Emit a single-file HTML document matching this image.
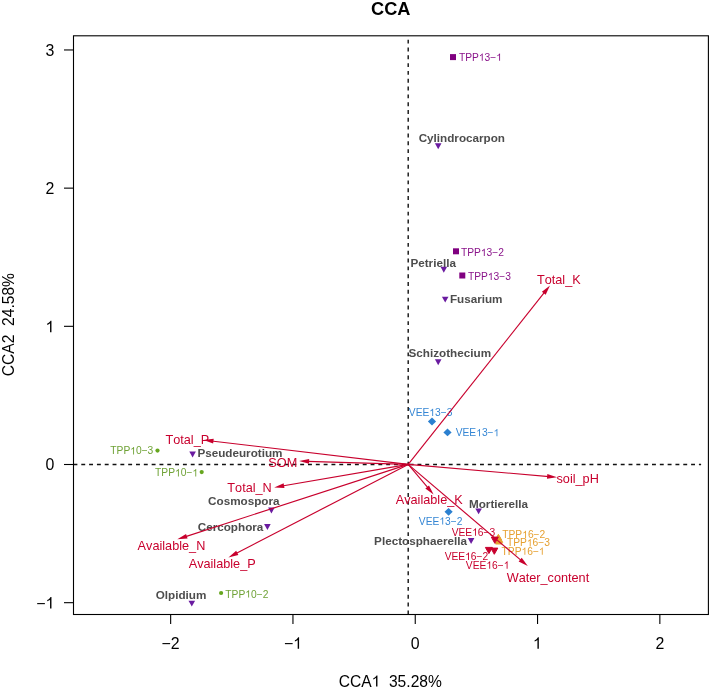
<!DOCTYPE html>
<html><head><meta charset="utf-8"><style>
html,body{margin:0;padding:0;background:#fff;width:709px;height:691px;overflow:hidden;}
svg{display:block;will-change:transform;font-family:"Liberation Sans", sans-serif;font-kerning:none;}
</style></head><body>
<svg width="709" height="691" viewBox="0 0 709 691">
<rect width="709" height="691" fill="#fff"/>
<line x1="73.47" y1="464.56" x2="701.1" y2="464.56" stroke="#111" stroke-width="1.4" stroke-dasharray="3.909 3.909"/>
<line x1="408.2" y1="614.3" x2="408.2" y2="36" stroke="#111" stroke-width="1.4" stroke-dasharray="3.909 3.909"/>
<polygon points="434.90,143.25 441.50,143.25 438.20,149.15" fill="#6a1ba0"/>
<text x="418.64" y="141.60" font-size="11.7" font-weight="bold" fill="#4d4d4d">Cylindrocarpon</text>
<polygon points="440.50,266.75 447.10,266.75 443.80,272.65" fill="#6a1ba0"/>
<text x="410.41" y="266.80" font-size="11.7" font-weight="bold" fill="#4d4d4d">Petriella</text>
<polygon points="441.90,296.65 448.50,296.65 445.20,302.55" fill="#6a1ba0"/>
<text x="449.89" y="302.60" font-size="11.7" font-weight="bold" fill="#4d4d4d">Fusarium</text>
<polygon points="434.90,359.25 441.50,359.25 438.20,365.15" fill="#6a1ba0"/>
<text x="408.56" y="357.30" font-size="11.7" font-weight="bold" fill="#4d4d4d">Schizothecium</text>
<polygon points="189.30,451.55 195.90,451.55 192.60,457.45" fill="#6a1ba0"/>
<text x="197.39" y="457.30" font-size="11.7" font-weight="bold" fill="#4d4d4d">Pseudeurotium</text>
<polygon points="268.10,507.55 274.70,507.55 271.40,513.45" fill="#6a1ba0"/>
<text x="208.07" y="505.00" font-size="11.7" font-weight="bold" fill="#4d4d4d">Cosmospora</text>
<polygon points="264.10,524.05 270.70,524.05 267.40,529.95" fill="#6a1ba0"/>
<text x="197.74" y="531.10" font-size="11.7" font-weight="bold" fill="#4d4d4d">Cercophora</text>
<polygon points="188.50,600.65 195.10,600.65 191.80,606.55" fill="#6a1ba0"/>
<text x="155.72" y="599.30" font-size="11.7" font-weight="bold" fill="#4d4d4d">Olpidium</text>
<polygon points="475.30,508.45 481.90,508.45 478.60,514.35" fill="#6a1ba0"/>
<text x="468.99" y="507.80" font-size="11.7" font-weight="bold" fill="#4d4d4d">Mortierella</text>
<polygon points="467.80,538.05 474.40,538.05 471.10,543.95" fill="#6a1ba0"/>
<text x="374.12" y="545.10" font-size="11.7" font-weight="bold" fill="#4d4d4d">Plectosphaerella</text>
<rect x="450.00" y="54.10" width="6" height="6" fill="#800080"/>
<rect x="453.00" y="248.30" width="6" height="6" fill="#800080"/>
<rect x="459.30" y="272.50" width="6" height="6" fill="#800080"/>
<polygon points="427.90,421.50 432.00,417.60 436.10,421.50 432.00,425.40" fill="#2b80d0"/>
<polygon points="443.40,432.40 447.50,428.50 451.60,432.40 447.50,436.30" fill="#2b80d0"/>
<polygon points="444.50,511.80 448.60,507.90 452.70,511.80 448.60,515.70" fill="#2b80d0"/>
<circle cx="157.50" cy="450.60" r="2.1" fill="#66a61e"/>
<circle cx="201.70" cy="472.10" r="2.1" fill="#66a61e"/>
<circle cx="221.10" cy="593.00" r="2.1" fill="#66a61e"/>
<polygon points="495.10,540.10 501.70,540.10 498.40,534.30" fill="#e6a030" stroke="#e6a030" stroke-width="1.0" stroke-linejoin="round"/>
<polygon points="496.10,542.40 502.70,542.40 499.40,536.60" fill="#e6a030" stroke="#e6a030" stroke-width="1.0" stroke-linejoin="round"/>
<polygon points="495.50,544.00 502.10,544.00 498.80,538.20" fill="#e6a030" stroke="#e6a030" stroke-width="1.0" stroke-linejoin="round"/>
<polygon points="491.30,537.10 498.30,537.10 494.80,543.30" fill="#c8002d" stroke="#c8002d" stroke-width="1.0" stroke-linejoin="round"/>
<polygon points="485.40,547.40 492.40,547.40 488.90,553.60" fill="#c8002d" stroke="#c8002d" stroke-width="1.0" stroke-linejoin="round"/>
<polygon points="490.80,548.10 497.80,548.10 494.30,554.30" fill="#c8002d" stroke="#c8002d" stroke-width="1.0" stroke-linejoin="round"/>
<path d="M 482.68,60.80 L 481.78,60.80 L 481.78,55.06 Q 481.45,55.37 480.92,55.68 Q 480.39,55.99 479.97,56.15 L 479.97,55.27 Q 480.73,54.92 481.29,54.41 Q 481.86,53.91 482.09,53.43 L 482.68,53.43 Z" fill="#8a148a"/>
<path d="M 500.06,60.80 L 499.16,60.80 L 499.16,55.06 Q 498.84,55.37 498.31,55.68 Q 497.78,55.99 497.36,56.15 L 497.36,55.27 Q 498.11,54.92 498.68,54.41 Q 499.24,53.91 499.48,53.43 L 500.06,53.43 Z" fill="#8a148a"/>
<text x="458.92" y="60.80" font-size="10.25" fill="#8a148a">TPP 3− </text>
<path d="M 484.73,256.00 L 483.83,256.00 L 483.83,250.26 Q 483.51,250.57 482.98,250.88 Q 482.45,251.19 482.03,251.35 L 482.03,250.47 Q 482.78,250.12 483.35,249.61 Q 483.91,249.11 484.15,248.63 L 484.73,248.63 Z" fill="#8a148a"/>
<text x="460.98" y="256.00" font-size="10.25" fill="#8a148a">TPP 3−2</text>
<path d="M 491.65,280.00 L 490.75,280.00 L 490.75,274.26 Q 490.43,274.57 489.90,274.88 Q 489.37,275.19 488.94,275.35 L 488.94,274.47 Q 489.70,274.12 490.27,273.61 Q 490.83,273.11 491.07,272.63 L 491.65,272.63 Z" fill="#8a148a"/>
<text x="467.90" y="280.00" font-size="10.25" fill="#8a148a">TPP 3−3</text>
<path d="M 433.13,416.00 L 432.23,416.00 L 432.23,410.26 Q 431.91,410.57 431.38,410.88 Q 430.85,411.19 430.43,411.35 L 430.43,410.47 Q 431.18,410.12 431.75,409.61 Q 432.31,409.11 432.55,408.63 L 433.13,408.63 Z" fill="#3586d4"/>
<text x="408.80" y="416.00" font-size="10.25" fill="#3586d4">VEE 3−3</text>
<path d="M 480.01,436.30 L 479.11,436.30 L 479.11,430.56 Q 478.78,430.87 478.25,431.18 Q 477.72,431.49 477.30,431.65 L 477.30,430.77 Q 478.06,430.42 478.62,429.91 Q 479.19,429.41 479.42,428.93 L 480.01,428.93 Z" fill="#3586d4"/>
<path d="M 497.39,436.30 L 496.49,436.30 L 496.49,430.56 Q 496.17,430.87 495.64,431.18 Q 495.11,431.49 494.69,431.65 L 494.69,430.77 Q 495.44,430.42 496.01,429.91 Q 496.57,429.41 496.81,428.93 L 497.39,428.93 Z" fill="#3586d4"/>
<text x="455.68" y="436.30" font-size="10.25" fill="#3586d4">VEE 3− </text>
<path d="M 443.17,524.60 L 442.26,524.60 L 442.26,518.86 Q 441.94,519.17 441.41,519.48 Q 440.88,519.79 440.46,519.95 L 440.46,519.07 Q 441.21,518.72 441.78,518.21 Q 442.34,517.71 442.58,517.23 L 443.17,517.23 Z" fill="#3586d4"/>
<text x="418.84" y="524.60" font-size="10.25" fill="#3586d4">VEE 3−2</text>
<path d="M 134.05,454.40 L 133.15,454.40 L 133.15,448.66 Q 132.83,448.97 132.30,449.28 Q 131.77,449.59 131.34,449.75 L 131.34,448.87 Q 132.10,448.52 132.67,448.01 Q 133.23,447.51 133.47,447.03 L 134.05,447.03 Z" fill="#6fa236"/>
<text x="110.30" y="454.40" font-size="10.25" fill="#6fa236">TPP 0−3</text>
<path d="M 178.83,476.40 L 177.93,476.40 L 177.93,470.66 Q 177.60,470.97 177.07,471.28 Q 176.54,471.59 176.12,471.75 L 176.12,470.87 Q 176.88,470.52 177.44,470.01 Q 178.01,469.51 178.24,469.03 L 178.83,469.03 Z" fill="#6fa236"/>
<path d="M 196.21,476.40 L 195.31,476.40 L 195.31,470.66 Q 194.99,470.97 194.46,471.28 Q 193.93,471.59 193.51,471.75 L 193.51,470.87 Q 194.26,470.52 194.83,470.01 Q 195.39,469.51 195.63,469.03 L 196.21,469.03 Z" fill="#6fa236"/>
<text x="155.07" y="476.40" font-size="10.25" fill="#6fa236">TPP 0− </text>
<path d="M 249.08,597.50 L 248.18,597.50 L 248.18,591.76 Q 247.86,592.07 247.33,592.38 Q 246.80,592.69 246.38,592.85 L 246.38,591.97 Q 247.13,591.62 247.70,591.11 Q 248.26,590.61 248.50,590.13 L 249.08,590.13 Z" fill="#6fa236"/>
<text x="225.33" y="597.50" font-size="10.25" fill="#6fa236">TPP 0−2</text>
<path d="M 475.98,535.70 L 475.08,535.70 L 475.08,529.96 Q 474.76,530.27 474.23,530.58 Q 473.70,530.89 473.28,531.05 L 473.28,530.17 Q 474.03,529.82 474.60,529.31 Q 475.16,528.81 475.40,528.33 L 475.98,528.33 Z" fill="#c8002d"/>
<text x="451.65" y="535.70" font-size="10.25" fill="#c8002d">VEE 6−3</text>
<path d="M 468.97,559.90 L 468.06,559.90 L 468.06,554.16 Q 467.74,554.47 467.21,554.78 Q 466.68,555.09 466.26,555.25 L 466.26,554.37 Q 467.01,554.02 467.58,553.51 Q 468.14,553.01 468.38,552.53 L 468.97,552.53 Z" fill="#c8002d"/>
<text x="444.64" y="559.90" font-size="10.25" fill="#c8002d">VEE 6−2</text>
<path d="M 490.16,568.70 L 489.26,568.70 L 489.26,562.96 Q 488.93,563.27 488.40,563.58 Q 487.87,563.89 487.45,564.05 L 487.45,563.17 Q 488.21,562.82 488.77,562.31 Q 489.34,561.81 489.57,561.33 L 490.16,561.33 Z" fill="#c8002d"/>
<path d="M 507.54,568.70 L 506.64,568.70 L 506.64,562.96 Q 506.32,563.27 505.79,563.58 Q 505.26,563.89 504.84,564.05 L 504.84,563.17 Q 505.59,562.82 506.16,562.31 Q 506.72,561.81 506.96,561.33 L 507.54,561.33 Z" fill="#c8002d"/>
<text x="465.83" y="568.70" font-size="10.25" fill="#c8002d">VEE 6− </text>
<path d="M 526.03,538.20 L 525.13,538.20 L 525.13,532.46 Q 524.81,532.77 524.28,533.08 Q 523.75,533.39 523.33,533.55 L 523.33,532.67 Q 524.08,532.32 524.65,531.81 Q 525.21,531.31 525.45,530.83 L 526.03,530.83 Z" fill="#e6a030"/>
<text x="502.28" y="538.20" font-size="10.25" fill="#e6a030">TPP 6−2</text>
<path d="M 530.65,546.40 L 529.75,546.40 L 529.75,540.66 Q 529.43,540.97 528.90,541.28 Q 528.37,541.59 527.94,541.75 L 527.94,540.87 Q 528.70,540.52 529.27,540.01 Q 529.83,539.51 530.07,539.03 L 530.65,539.03 Z" fill="#e6a030"/>
<text x="506.90" y="546.40" font-size="10.25" fill="#e6a030">TPP 6−3</text>
<path d="M 525.33,554.80 L 524.43,554.80 L 524.43,549.06 Q 524.10,549.37 523.57,549.68 Q 523.04,549.99 522.62,550.15 L 522.62,549.27 Q 523.38,548.92 523.94,548.41 Q 524.51,547.91 524.74,547.43 L 525.33,547.43 Z" fill="#e6a030"/>
<path d="M 542.71,554.80 L 541.81,554.80 L 541.81,549.06 Q 541.49,549.37 540.96,549.68 Q 540.43,549.99 540.01,550.15 L 540.01,549.27 Q 540.76,548.92 541.33,548.41 Q 541.89,547.91 542.13,547.43 L 542.71,547.43 Z" fill="#e6a030"/>
<text x="501.57" y="554.80" font-size="10.25" fill="#e6a030">TPP 6− </text>
<line x1="408.2" y1="464.4" x2="545.03" y2="291.67" stroke="#c8002d" stroke-width="1.15"/>
<polygon points="550.00,285.40 545.67,294.73 541.91,291.75" fill="#c8002d"/>
<line x1="408.2" y1="464.4" x2="211.44" y2="440.95" stroke="#c8002d" stroke-width="1.15"/>
<polygon points="203.50,440.00 213.71,438.80 213.15,443.57" fill="#c8002d"/>
<line x1="408.2" y1="464.4" x2="307.10" y2="461.34" stroke="#c8002d" stroke-width="1.15"/>
<polygon points="299.10,461.10 309.17,459.00 309.02,463.80" fill="#c8002d"/>
<line x1="408.2" y1="464.4" x2="282.08" y2="486.05" stroke="#c8002d" stroke-width="1.15"/>
<polygon points="274.20,487.40 283.65,483.34 284.46,488.07" fill="#c8002d"/>
<line x1="408.2" y1="464.4" x2="184.91" y2="536.83" stroke="#c8002d" stroke-width="1.15"/>
<polygon points="177.30,539.30 186.07,533.93 187.55,538.50" fill="#c8002d"/>
<line x1="408.2" y1="464.4" x2="235.51" y2="553.72" stroke="#c8002d" stroke-width="1.15"/>
<polygon points="228.40,557.40 236.18,550.67 238.38,554.94" fill="#c8002d"/>
<line x1="408.2" y1="464.4" x2="428.45" y2="488.48" stroke="#c8002d" stroke-width="1.15"/>
<polygon points="433.60,494.60 425.33,488.49 429.00,485.40" fill="#c8002d"/>
<line x1="408.2" y1="464.4" x2="549.13" y2="476.61" stroke="#c8002d" stroke-width="1.15"/>
<polygon points="557.10,477.30 546.93,478.83 547.34,474.05" fill="#c8002d"/>
<line x1="408.2" y1="464.4" x2="521.71" y2="560.92" stroke="#c8002d" stroke-width="1.15"/>
<polygon points="527.80,566.10 518.63,561.45 521.74,557.79" fill="#c8002d"/>
<text x="536.99" y="283.90" font-size="12.7" fill="#c8002d">Total_K</text>
<text x="165.46" y="443.80" font-size="12.7" fill="#c8002d">Total_P</text>
<text x="268.32" y="466.70" font-size="12.7" fill="#c8002d">SOM</text>
<text x="227.34" y="491.60" font-size="12.7" fill="#c8002d">Total_N</text>
<text x="137.62" y="550.10" font-size="12.7" fill="#c8002d">Available_N</text>
<text x="188.69" y="567.70" font-size="12.7" fill="#c8002d">Available_P</text>
<text x="395.72" y="504.30" font-size="12.7" fill="#c8002d">Available_K</text>
<text x="556.51" y="483.00" font-size="12.7" fill="#c8002d">soil_pH</text>
<text x="506.67" y="581.50" font-size="12.7" fill="#c8002d">Water_content</text>
<rect x="73.5" y="35.8" width="634.9" height="578.7" fill="none" stroke="#000" stroke-width="1.1"/>
<line x1="64.0" y1="602.68" x2="73.5" y2="602.68" stroke="#000" stroke-width="1.1"/>
<path d="M 51.46,608.55 L 50.06,608.55 L 50.06,599.64 Q 49.56,600.13 48.73,600.61 Q 47.91,601.09 47.26,601.33 L 47.26,599.98 Q 48.43,599.43 49.31,598.64 Q 50.18,597.86 50.55,597.12 L 51.46,597.12 Z" fill="#000"/>
<text x="36.25" y="608.55" font-size="15.9" fill="#000">− </text>
<line x1="64.0" y1="464.50" x2="73.5" y2="464.50" stroke="#000" stroke-width="1.1"/>
<text x="45.38" y="470.45" font-size="15.9" fill="#000">0</text>
<line x1="64.0" y1="326.32" x2="73.5" y2="326.32" stroke="#000" stroke-width="1.1"/>
<path d="M 51.46,332.19 L 50.06,332.19 L 50.06,323.28 Q 49.56,323.77 48.73,324.25 Q 47.91,324.73 47.26,324.97 L 47.26,323.62 Q 48.43,323.07 49.31,322.28 Q 50.18,321.50 50.55,320.76 L 51.46,320.76 Z" fill="#000"/>
<text x="45.53" y="332.19" font-size="15.9" fill="#000"> </text>
<line x1="64.0" y1="188.14" x2="73.5" y2="188.14" stroke="#000" stroke-width="1.1"/>
<text x="45.56" y="194.09" font-size="15.9" fill="#000">2</text>
<line x1="64.0" y1="49.96" x2="73.5" y2="49.96" stroke="#000" stroke-width="1.1"/>
<text x="45.46" y="55.91" font-size="15.9" fill="#000">3</text>
<line x1="170.65" y1="614.5" x2="170.65" y2="623.9" stroke="#000" stroke-width="1.1"/>
<text x="161.59" y="648.80" font-size="15.9" fill="#000">−2</text>
<line x1="292.95" y1="614.5" x2="292.95" y2="623.9" stroke="#000" stroke-width="1.1"/>
<path d="M 299.09,648.80 L 297.69,648.80 L 297.69,639.90 Q 297.19,640.38 296.37,640.86 Q 295.54,641.34 294.89,641.58 L 294.89,640.23 Q 296.06,639.68 296.94,638.89 Q 297.82,638.11 298.18,637.37 L 299.09,637.37 Z" fill="#000"/>
<text x="283.88" y="648.80" font-size="15.9" fill="#000">− </text>
<line x1="415.25" y1="614.5" x2="415.25" y2="623.9" stroke="#000" stroke-width="1.1"/>
<text x="410.83" y="648.80" font-size="15.9" fill="#000">0</text>
<line x1="537.55" y1="614.5" x2="537.55" y2="623.9" stroke="#000" stroke-width="1.1"/>
<path d="M 538.83,648.80 L 537.44,648.80 L 537.44,639.90 Q 536.93,640.38 536.11,640.86 Q 535.29,641.34 534.63,641.58 L 534.63,640.23 Q 535.81,639.68 536.68,638.89 Q 537.56,638.11 537.93,637.37 L 538.83,637.37 Z" fill="#000"/>
<text x="532.91" y="648.80" font-size="15.9" fill="#000"> </text>
<line x1="659.85" y1="614.5" x2="659.85" y2="623.9" stroke="#000" stroke-width="1.1"/>
<text x="655.43" y="648.80" font-size="15.9" fill="#000">2</text>
<path d="M 377.44,686.60 L 376.06,686.60 L 376.06,677.86 Q 375.57,678.34 374.76,678.81 Q 373.95,679.28 373.31,679.52 L 373.31,678.19 Q 374.46,677.65 375.33,676.88 Q 376.19,676.11 376.54,675.39 L 377.44,675.39 Z" fill="#000"/>
<text x="338.69" y="686.60" font-size="15.6" fill="#000" xml:space="preserve">CCA   35.28%</text>
<text transform="translate(14.4,324.50) rotate(-90)" x="-51.71" y="0" font-size="15.6" fill="#000" xml:space="preserve">CCA2  24.58%</text>
<text x="371.05" y="14.90" font-size="18.2" font-weight="bold" fill="#000">CCA</text>
</svg>
</body></html>
